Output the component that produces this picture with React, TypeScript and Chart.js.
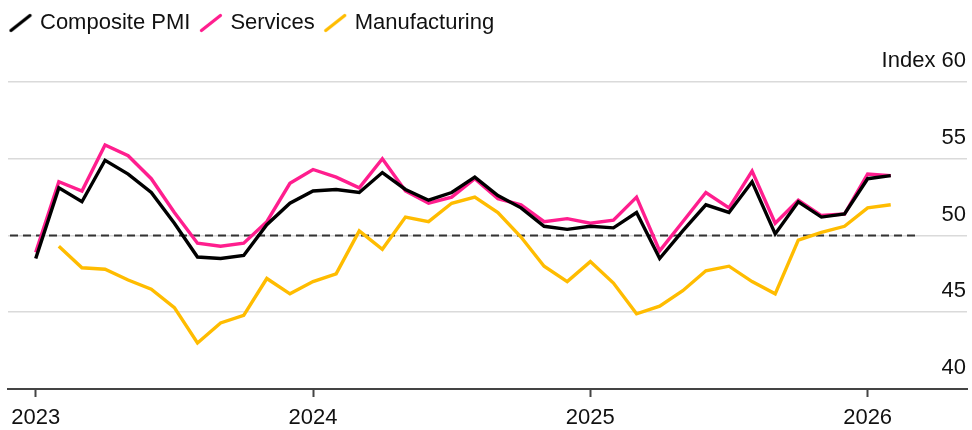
import React, { useEffect, useRef } from 'react';
import { Chart, registerables } from 'chart.js';

Chart.register(...registerables);

// ---- data (UK-style PMI, monthly) ----
const months = [
  'Jan 2023', 'Feb 2023', 'Mar 2023', 'Apr 2023', 'May 2023', 'Jun 2023', 'Jul 2023', 'Aug 2023', 'Sep 2023', 'Oct 2023', 'Nov 2023', 'Dec 2023',
  'Jan 2024', 'Feb 2024', 'Mar 2024', 'Apr 2024', 'May 2024', 'Jun 2024', 'Jul 2024', 'Aug 2024', 'Sep 2024', 'Oct 2024', 'Nov 2024', 'Dec 2024',
  'Jan 2025', 'Feb 2025', 'Mar 2025', 'Apr 2025', 'May 2025', 'Jun 2025', 'Jul 2025', 'Aug 2025', 'Sep 2025', 'Oct 2025', 'Nov 2025', 'Dec 2025',
  'Jan 2026', 'Feb 2026',
];

const composite = [
  48.5, 53.1, 52.2, 54.9, 54.0, 52.8, 50.8, 48.6, 48.5, 48.7, 50.7, 52.1,
  52.9, 53.0, 52.8, 54.1, 53.0, 52.3, 52.8, 53.8, 52.6, 51.8, 50.6, 50.4,
  50.6, 50.5, 51.5, 48.5, 50.3, 52.0, 51.5, 53.5, 50.1, 52.2, 51.2, 51.4,
  53.7, 53.9,
];

const services = [
  48.9, 53.5, 52.9, 55.9, 55.2, 53.7, 51.5, 49.5, 49.3, 49.5, 50.9, 53.4,
  54.3, 53.8, 53.1, 55.0, 52.9, 52.1, 52.5, 53.7, 52.4, 52.0, 50.9, 51.1,
  50.8, 51.0, 52.5, 49.0, 50.9, 52.8, 51.8, 54.2, 50.8, 52.3, 51.3, 51.4,
  54.0, 53.9,
];

const manufacturing = [
  null, 49.3, 47.9, 47.8, 47.1, 46.5, 45.3, 43.0, 44.3, 44.8, 47.2, 46.2,
  47.0, 47.5, 50.3, 49.1, 51.2, 50.9, 52.1, 52.5, 51.5, 49.9, 48.0, 47.0,
  48.3, 46.9, 44.9, 45.4, 46.4, 47.7, 48.0, 47.0, 46.2, 49.7, 50.2, 50.6,
  51.8, 52.0,
];

const seriesLabels = ['Composite PMI', 'Services', 'Manufacturing'];
const yearTickLabels = ['2023', '2024', '2025', '2026'];
const referenceLevel = 50;

// ---- styles ----
const FONT = '"Liberation Sans", Arial, Helvetica, sans-serif';
const COLORS = ['#000000', '#ff1e8e', '#ffbc00'];
const TEXT = '#111111';

const yearTickIndexes = months
  .map((m, i) => (m.startsWith('Jan') ? i : -1))
  .filter((i) => i >= 0);

function toPoints(values: (number | null)[]) {
  return values.map((v, i) => ({ x: i, y: v }));
}

function slashIcon(color: string) {
  const c = document.createElement('canvas');
  c.width = 24;
  c.height = 20;
  const ctx = c.getContext('2d')!;
  ctx.strokeStyle = color;
  ctx.lineWidth = 3.2;
  ctx.lineCap = 'round';
  ctx.beginPath();
  ctx.moveTo(2.5, 17.5);
  ctx.lineTo(21.5, 2.5);
  ctx.stroke();
  return c;
}

const referenceLinePlugin = {
  id: 'referenceLine',
  beforeDatasetsDraw(chart: any) {
    const { ctx, chartArea, scales } = chart;
    const y = scales.y.getPixelForValue(referenceLevel);
    const xEnd = scales.x.getPixelForValue(months.length - 1 + 1.2);
    ctx.save();
    ctx.strokeStyle = '#333333';
    ctx.lineWidth = 2.2;
    ctx.setLineDash([8, 5]);
    ctx.beginPath();
    ctx.moveTo(chartArea.left + 2, y);
    ctx.lineTo(xEnd, y);
    ctx.stroke();
    ctx.restore();
  },
};

export default function App() {
  const ref = useRef<HTMLCanvasElement>(null);

  useEffect(() => {
    const seriesData = [composite, services, manufacturing];
    const chart = new Chart(ref.current!, {
      type: 'line',
      data: {
        datasets: seriesLabels.map((label, i) => ({
          label,
          data: toPoints(seriesData[i]),
          borderColor: COLORS[i],
          backgroundColor: COLORS[i],
          borderWidth: 3.4,
          pointRadius: 0,
          tension: 0,
          fill: false,
          xAxisID: 'x',
          yAxisID: 'y',
        })),
      },
      options: {
        animation: false,
        responsive: false,
        maintainAspectRatio: false,
        layout: { padding: { left: 0, right: 5, top: 0, bottom: 0 } },
        plugins: {
          tooltip: { enabled: false },
          legend: {
            display: true,
            position: 'top',
            align: 'start',
            labels: {
              usePointStyle: true,
              pointStyleWidth: 17,
              padding: 12,
              color: TEXT,
              font: { family: FONT, size: 22 },
              generateLabels: (c: any) =>
                c.data.datasets.map((ds: any, i: number) => ({
                  text: ds.label,
                  pointStyle: slashIcon(ds.borderColor),
                  fillStyle: ds.borderColor,
                  strokeStyle: ds.borderColor,
                  lineWidth: 0,
                  hidden: false,
                  datasetIndex: i,
                  fontColor: TEXT,
                })),
            },
          },
        },
        scales: {
          x: {
            type: 'linear',
            position: 'bottom',
            min: -1.2,
            max: 40.3,
            afterBuildTicks: (axis: any) => {
              axis.ticks = yearTickIndexes.map((v) => ({ value: v }));
            },
            afterFit: (s: any) => {
              s.height = 41;
            },
            ticks: {
              autoSkip: false,
              maxRotation: 0,
              padding: 10,
              color: TEXT,
              font: { family: FONT, size: 22, lineHeight: 1 },
              callback: (_v: any, i: number) => yearTickLabels[i],
            },
            grid: {
              display: true,
              drawOnChartArea: false,
              drawTicks: true,
              tickLength: 8,
              tickColor: '#444444',
              tickWidth: 2,
            },
            border: { display: true, color: '#444444', width: 2 },
          },
          xTop: {
            type: 'linear',
            position: 'top',
            display: true,
            grid: { display: false },
            border: { display: false },
            ticks: { display: false },
            afterFit: (s: any) => {
              s.height = 38;
            },
          },
          yPad: {
            type: 'linear',
            position: 'left',
            display: true,
            grid: { display: false },
            border: { display: false },
            ticks: { display: false },
            afterFit: (s: any) => {
              s.width = 8;
            },
          },
          y: {
            type: 'linear',
            position: 'right',
            min: 40,
            max: 60,
            ticks: {
              stepSize: 5,
              mirror: true,
              padding: -1,
              labelOffset: -21,
              color: TEXT,
              font: { family: FONT, size: 22 },
              callback: (v: any) => (v === 60 ? 'Index 60' : String(v)),
            },
            grid: {
              drawTicks: false,
              lineWidth: 1.6,
              color: (ctx: any) => (ctx.tick && ctx.tick.value === 40 ? 'rgba(0,0,0,0)' : '#dadada'),
            },
            border: { display: false },
          },
        },
      } as any,
      plugins: [referenceLinePlugin],
    });
    return () => chart.destroy();
  }, []);

  return (
    <div style={{ position: 'absolute', left: 0, top: 0, width: 972, height: 430, background: '#ffffff' }}>
      <canvas ref={ref} width={972} height={430} style={{ display: 'block', width: 972, height: 430 }} />
    </div>
  );
}
